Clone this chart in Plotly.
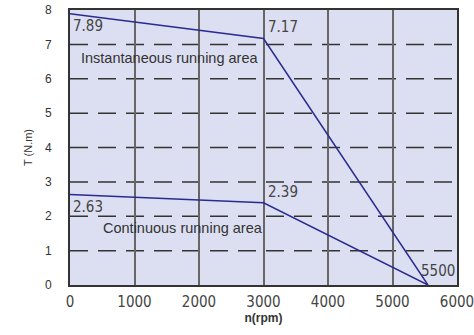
import plotly.graph_objects as go

inst_x = [0, 3000, 5550]
inst_t = [7.89, 7.17, 0]
cont_x = [0, 3000, 5550]
cont_t = [2.63, 2.39, 0]
x_ticks = [0, 1000, 2000, 3000, 4000, 5000, 6000]
y_ticks = [0, 1, 2, 3, 4, 5, 6, 7, 8]

LINE = "#2b2b8f"
fig = go.Figure()
fig.add_trace(go.Scatter(x=inst_x, y=inst_t, mode="lines", line=dict(color=LINE, width=1.5), showlegend=False, hoverinfo="skip"))
fig.add_trace(go.Scatter(x=cont_x, y=cont_t, mode="lines", line=dict(color=LINE, width=1.5), showlegend=False, hoverinfo="skip"))

for yv in y_ticks[1:-1]:
    fig.add_hline(y=yv, line=dict(color="#333333", width=1.5, dash="18px,10px"), layer="below")

num_font = dict(family="DejaVu Sans Condensed, Liberation Sans Narrow, sans-serif", size=15, color="#444444")
txt_font = dict(family="Arial, Liberation Sans, sans-serif", size=14.5, color="#333333")
ann = [
    dict(x=inst_x[0], y=inst_t[0], text="7.89", xanchor="left", yanchor="top", xshift=1, yshift=-1, font=num_font),
    dict(x=inst_x[1], y=inst_t[1], text="7.17", xanchor="left", yanchor="bottom", xshift=2, yshift=1, font=num_font),
    dict(x=cont_x[0], y=cont_t[0], text="2.63", xanchor="left", yanchor="top", xshift=1, yshift=-1, font=num_font),
    dict(x=cont_x[1], y=cont_t[1], text="2.39", xanchor="left", yanchor="bottom", xshift=2, yshift=0, font=num_font),
    dict(x=cont_x[2], y=0, text="5500", xanchor="center", yanchor="bottom", xshift=10, yshift=3, font=num_font),
    dict(x=1546, y=6.6, text="Instantaneous running area", xanchor="center", yanchor="middle", font=txt_font),
    dict(x=1747, y=1.67, text="Continuous running area", xanchor="center", yanchor="middle", font=txt_font),
]
for a in ann:
    fig.add_annotation(showarrow=False, **a)

fig.update_layout(
    width=474, height=335,
    margin=dict(l=70, r=17, t=10, b=50, autoexpand=False),
    paper_bgcolor="white",
    plot_bgcolor="#dcdff1",
    showlegend=False,
)
fig.update_xaxes(
    range=[0, 6000], tickvals=x_ticks, ticktext=[str(v) for v in x_ticks],
    showgrid=True, gridcolor="#666666", gridwidth=1.5,
    showline=True, linecolor="#333333", linewidth=2, mirror=True,
    ticks="", tickfont=num_font, zeroline=False, ticklabelstandoff=2,
    ticklabeloverflow="allow", automargin=False,
    title=dict(text="<b>n(rpm)</b>", font=dict(family="Arial, sans-serif", size=12, color="#333333"), standoff=0),
)
fig.update_yaxes(
    range=[0, 8], tickvals=y_ticks, ticktext=[str(v) for v in y_ticks],
    showgrid=False, automargin=False,
    showline=True, linecolor="#333333", linewidth=2, mirror=True,
    ticks="", tickfont=dict(family="Arial, sans-serif", size=12, color="#333333"), zeroline=False,
    ticklabelstandoff=14,
    title=dict(text="T (N.m)", font=dict(family="Arial, sans-serif", size=11, color="#333333"), standoff=10),
)
fig.write_html("out.html", config={"displayModeBar": False},
               post_script="document.body.style.margin='0px';")
